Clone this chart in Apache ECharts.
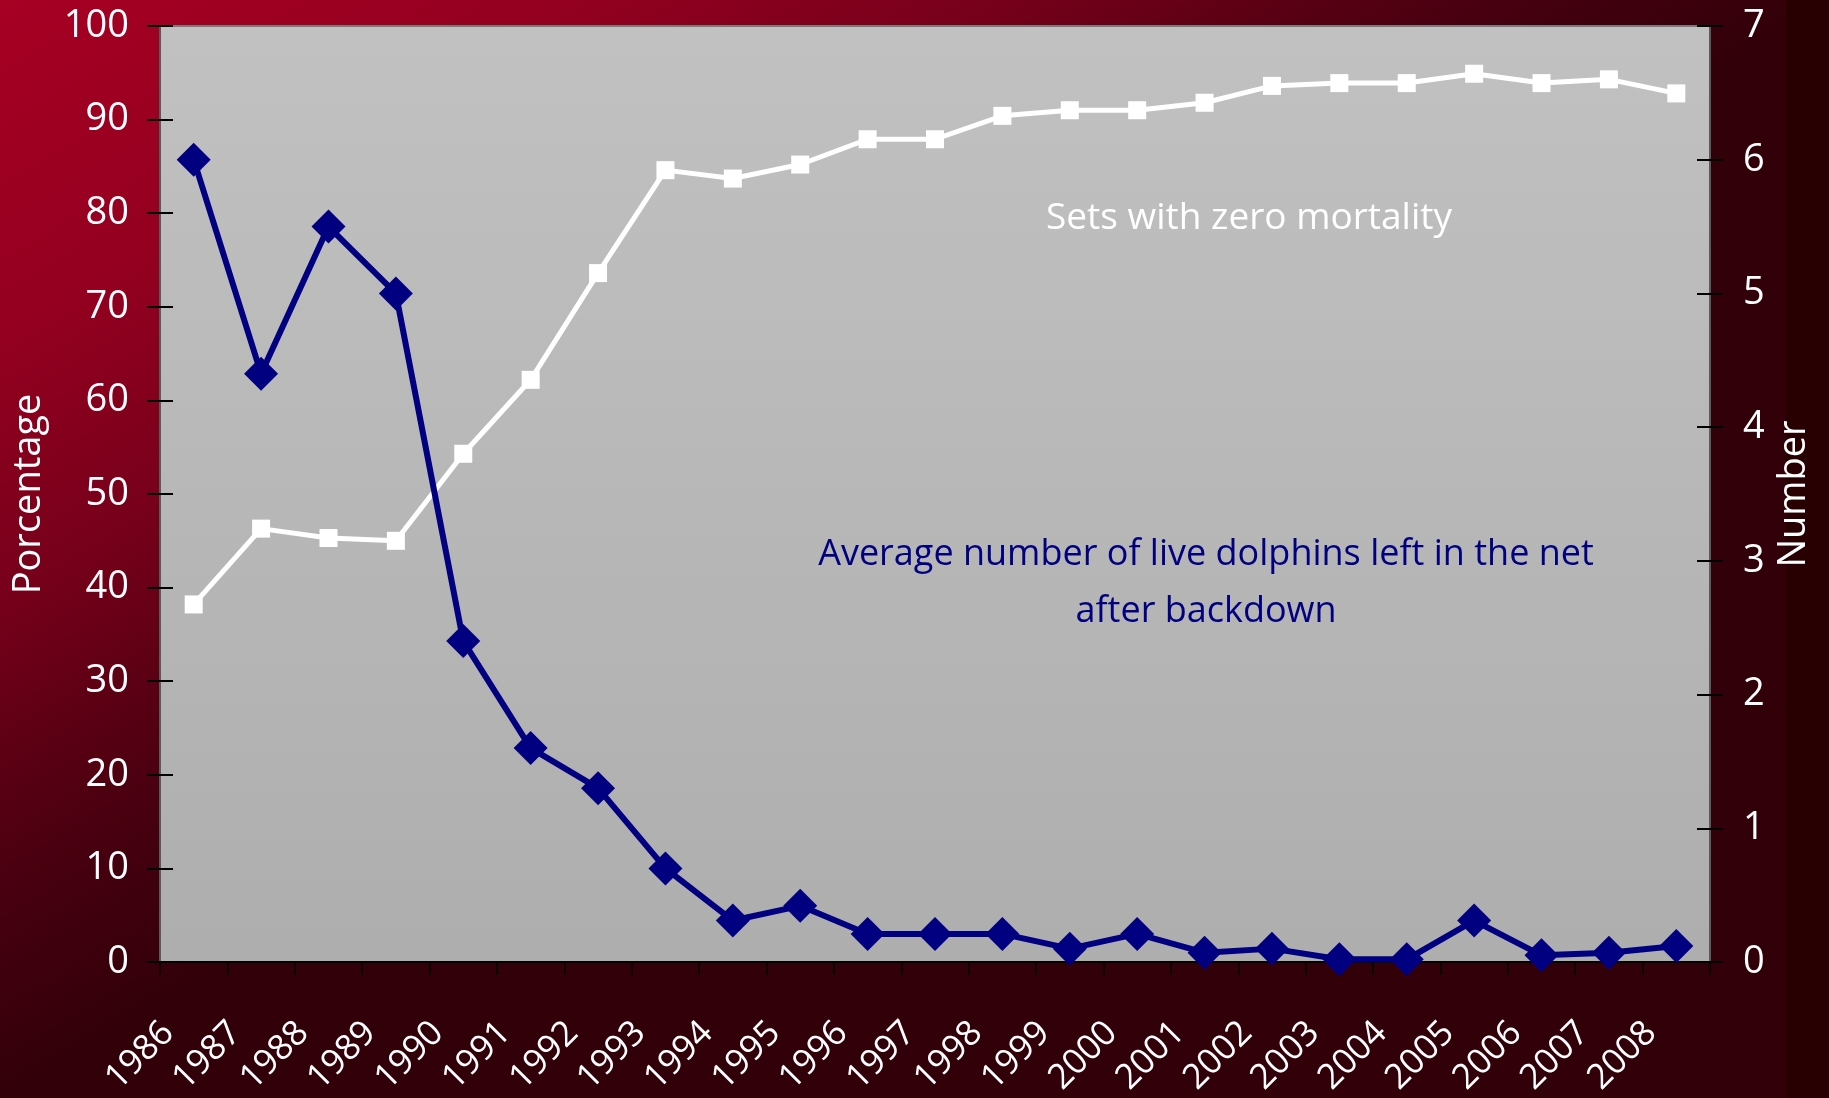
<!DOCTYPE html>
<html>
<head>
<meta charset="utf-8">
<script src="https://cdn.jsdelivr.net/npm/echarts@6/dist/echarts.min.js"></script>
<style>
  html, body { margin: 0; padding: 0; }
  #main { width: 1829px; height: 1098px; }
</style>
</head>
<body>
<div id="main"></div>
<script>
// categories
const years = ['1986', '1987', '1988', '1989', '1990', '1991', '1992', '1993', '1994', '1995', '1996', '1997',
    '1998', '1999', '2000', '2001', '2002', '2003', '2004', '2005', '2006', '2007', '2008'];

// % of sets with zero mortality (left axis)
const zeroMortality = [38.2, 46.3, 45.3, 45.0, 54.3, 62.2, 73.6, 84.6, 83.7, 85.2, 87.9, 87.9,
    90.4, 91.0, 91.0, 91.8, 93.6, 93.9, 93.9, 94.9, 93.9, 94.3, 92.8];

// average number of live dolphins left in the net (right axis)
const liveDolphins = [6.0, 4.4, 5.5, 5.0, 2.4, 1.6, 1.3, 0.7, 0.31, 0.42, 0.21, 0.21,
    0.21, 0.1, 0.21, 0.07, 0.1, 0.02, 0.02, 0.31, 0.05, 0.07, 0.12];

// tick settings
const pctMin = 0, pctMax = 100, pctStep = 10;
const numMin = 0, numMax = 7, numStep = 1;

const FONT = '"Open Sans", "Noto Sans", sans-serif';

let chart = echarts.init(document.getElementById('main'));

// y axis, the crossing ticks are made with a second copy that has inside ticks
const _yAxis = (pos, min, max, step, name, inside) => {
    return {
        type: 'value',
        position: pos,
        min: min,
        max: max,
        interval: step,
        name: inside ? '' : name,
        nameLocation: 'middle',
        nameGap: pos === 'left' ? 112 : 64,
        nameRotate: 90,
        nameTextStyle: { color: '#fff', fontSize: 38, fontFamily: FONT },
        splitLine: { show: false },
        axisLine: { show: true, lineStyle: { color: '#5a5a5a', width: 2 } },
        axisTick: { show: true, inside: inside, length: 13, lineStyle: { color: '#000', width: 2 } },
        axisLabel: {
            show: !inside,
            color: '#fff',
            fontSize: 38,
            fontFamily: FONT,
            margin: pos === 'left' ? 31 : 33
        }
    };
};

const _xAxis = (inside) => {
    return {
        type: 'category',
        data: years,
        boundaryGap: true,
        axisLine: { show: true, lineStyle: { color: '#000', width: 2 } },
        axisTick: { show: true, inside: inside, length: 13, lineStyle: { color: '#000', width: 1.5 } },
        axisLabel: {
            show: !inside,
            interval: 0,
            rotate: 45,
            color: '#fff',
            fontSize: 35,
            fontFamily: FONT,
            margin: 40,
            padding: [0, 36, 0, 0]
        }
    };
};

chart.setOption({
    // diagonal red -> dark background
    backgroundColor: {
        type: 'linear',
        x: 0, y: 0, x2: 484, y2: 807,
        global: true,
        colorStops: [
            { offset: 0, color: '#a60023' },
            { offset: 0.3, color: '#950020' },
            { offset: 0.55, color: '#76001a' },
            { offset: 0.8, color: '#4a0010' },
            { offset: 1, color: '#320009' }
        ]
    },
    grid: {
        left: 160,
        right: 119,
        top: 26,
        bottom: 136,
        outerBoundsMode: 'none',
        show: true,
        borderWidth: 2,
        borderColor: '#7a7a7a',
        backgroundColor: {
            type: 'linear', x: 0, y: 0, x2: 0, y2: 1,
            colorStops: [
                { offset: 0, color: '#c1c1c1' },
                { offset: 1, color: '#aeaeae' }
            ]
        }
    },
    xAxis: [_xAxis(false), _xAxis(true)],
    yAxis: [
        _yAxis('left', pctMin, pctMax, pctStep, 'Porcentage', false),
        _yAxis('right', numMin, numMax, numStep, 'Number', false),
        _yAxis('left', pctMin, pctMax, pctStep, '', true),
        _yAxis('right', numMin, numMax, numStep, '', true)
    ],
    graphic: [
        {
            // darker strip on the right edge
            type: 'rect',
            z: -1,
            silent: true,
            shape: { x: 1786, y: 0, width: 43, height: 1098 },
            style: { fill: '#290002' }
        },
        {
            type: 'text',
            x: 1249,
            y: 218,
            style: {
                text: 'Sets with zero mortality',
                fill: '#fff',
                font: '37px ' + FONT,
                align: 'center',
                verticalAlign: 'middle'
            }
        },
        {
            type: 'text',
            x: 1206,
            y: 555,
            style: {
                text: 'Average number of live dolphins left in the net',
                fill: '#000080',
                font: '36px ' + FONT,
                align: 'center',
                verticalAlign: 'middle'
            }
        },
        {
            type: 'text',
            x: 1206,
            y: 612,
            style: {
                text: 'after backdown',
                fill: '#000080',
                font: '36px ' + FONT,
                align: 'center',
                verticalAlign: 'middle'
            }
        }
    ],
    series: [
        {
            name: 'Sets with zero mortality',
            type: 'line',
            yAxisIndex: 0,
            data: zeroMortality,
            symbol: 'rect',
            symbolSize: 18,
            lineStyle: { color: '#fff', width: 5 },
            itemStyle: { color: '#fff' },
            z: 3
        },
        {
            name: 'Average number of live dolphins',
            type: 'line',
            yAxisIndex: 1,
            data: liveDolphins,
            symbol: 'diamond',
            symbolSize: 34,
            lineStyle: { color: '#000080', width: 6 },
            itemStyle: { color: '#000080' },
            z: 4
        }
    ]
});
</script>
</body>
</html>
